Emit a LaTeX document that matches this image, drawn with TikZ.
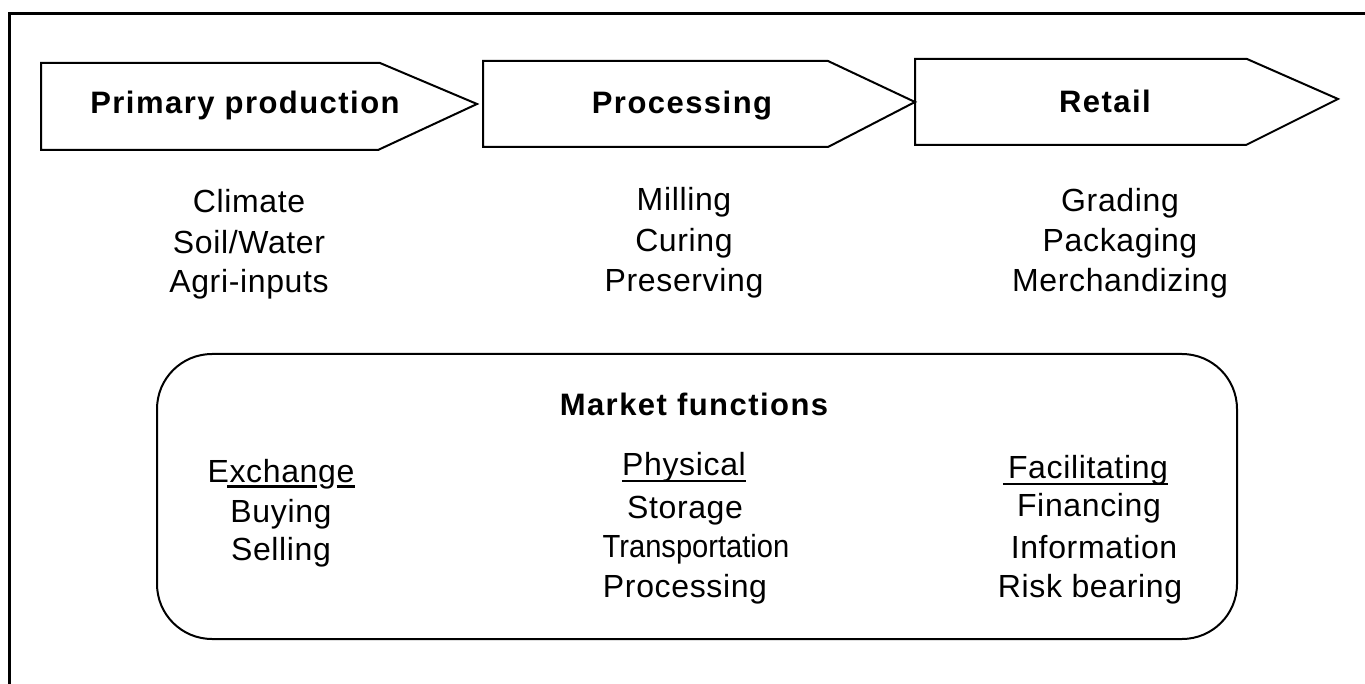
\documentclass[tikz,border=0pt]{standalone}
\usepackage{fontspec}
\setmainfont{Liberation Sans}
\newfontfamily\headfont[LetterSpace=4.7]{Liberation Sans}
\newfontfamily\labfont[LetterSpace=2]{Liberation Sans}
\newfontfamily\plainlab{Liberation Sans}
\begin{document}
\begin{tikzpicture}[x=1pt,y=-1pt,
  lab/.style={anchor=base, inner sep=0pt, font=\labfont\fontsize{32}{36}\selectfont},
  head/.style={anchor=base, inner sep=0pt, font=\headfont\bfseries\fontsize{31}{36}\selectfont},
  stagebox/.style={draw, line width=2pt, line join=miter},
  frame/.style={draw, line width=3pt},
  uline/.style={line width=2pt},
  mfbox/.style={draw, line width=2pt, rounded corners=55pt, inner sep=0pt}]
\useasboundingbox (0,0) rectangle (1365,684);
% outer frame (top and left edges)
\coordinate (ftl) at (9,14);
\coordinate (ftr) at (1365,14);
\coordinate (fbl) at (9,684);
\draw[frame] (fbl) -- (ftl) -- (ftr);
% stage arrows
\draw[stagebox] (41,63) -- (380,63) -- (477,104) -- (378,150) -- (41,150) -- cycle;
\draw[stagebox] (483,61) -- (828,61) -- (915,102) -- (828,147) -- (483,147) -- cycle;
\draw[stagebox] (915,59) -- (1247,59) -- (1338,99) -- (1246,145) -- (915,145) -- cycle;
\node[head] (pp) at (245,114) {Primary production};
\node[head] (pr) at (682,114) {Processing};
\node[head] (rt) at (1105,113) {Retail};
% stage details
\node[lab] (c1a) at (249,213) {Climate};
\node[lab] (c1b) at (249,254) {Soil/Water};
\node[lab] (c1c) at (249,293) {Agri-inputs};
\node[lab] (c2a) at (684,211) {Milling};
\node[lab] (c2b) at (684,252) {Curing};
\node[lab] (c2c) at (684,292) {Preserving};
\node[lab] (c3a) at (1120,212) {Grading};
\node[lab] (c3b) at (1120,252) {Packaging};
\node[lab] (c3c) at (1120,292) {Merchandizing};
% market functions box
\node[mfbox, minimum width=1080pt, minimum height=285pt] (mf) at (697,496.5) {};
\node[head] (mft) at (694,415) {Market functions};
\node[lab] (ex) at (281,482) {Exchange};
\node[lab] (ex1) at (281,522) {Buying};
\node[lab] (ex2) at (281,560) {Selling};
\node[lab] (ph) at (684,475) {Physical};
\node[lab] (ph1) at (685,518) {Storage};
\node[lab] (ph2) at (696,557) {\plainlab\scalebox{0.91}[1]{Transportation}};
\node[lab] (ph3) at (685,597) {Processing};
\node[lab] (fa) at (1088,478) {Facilitating};
\node[lab] (fa1) at (1089,516) {Financing};
\node[lab] (fa2) at (1094,558) {Information};
\node[lab] (fa3) at (1090,597) {Risk bearing};
% underlines
\draw[line width=3pt] ([xshift=20pt,yshift=-4pt]ex.base west) -- ([xshift=-38pt,yshift=-4pt]ex.base east);
\draw[line width=3pt] ([xshift=-18pt,yshift=-4pt]ex.base east) -- ([yshift=-4pt]ex.base east);
\draw[uline] ([yshift=-6pt]ph.base west) -- ([yshift=-6pt]ph.base east);
\draw[uline] ([xshift=-5pt,yshift=-6pt]fa.base west) -- ([yshift=-6pt]fa.base east);
\end{tikzpicture}
\end{document}
